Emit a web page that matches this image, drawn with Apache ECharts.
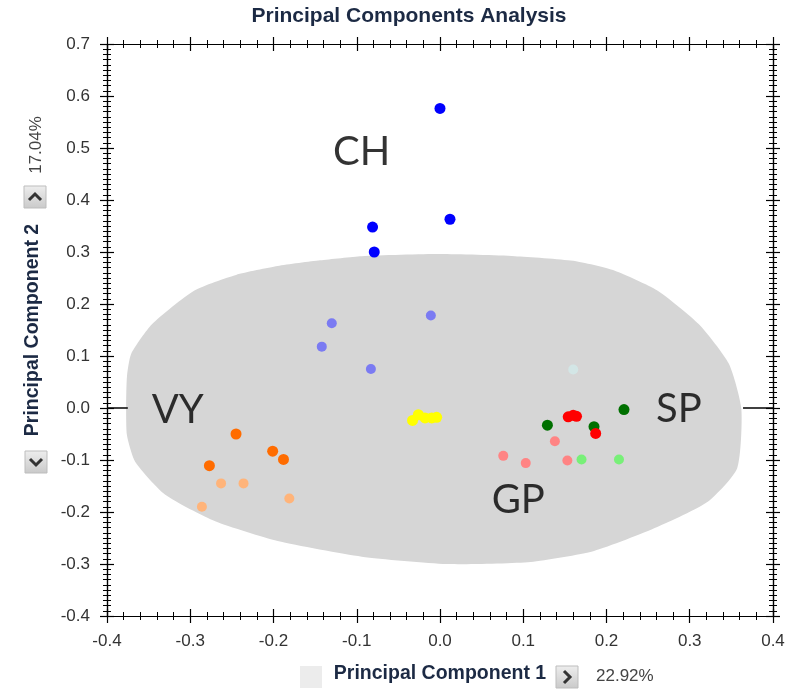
<!DOCTYPE html>
<html>
<head>
<meta charset="utf-8">
<script src="https://cdn.jsdelivr.net/npm/echarts@6/dist/echarts.min.js"></script>
<style>
html,body{margin:0;padding:0;background:#fff;}
#chart{width:792px;height:689px;}
</style>
</head>
<body>
<div id="chart"></div>
<script>
// ---- data ----
var chDark   = [[0.000, 0.576], [0.012, 0.363], [-0.081, 0.348], [-0.079, 0.300]];
var chLight  = [[-0.130, 0.163], [-0.142, 0.118], [-0.083, 0.075], [-0.011, 0.178]];
var vyDark   = [[-0.245, -0.050], [-0.277, -0.111], [-0.201, -0.083], [-0.188, -0.099]];
var vyLight  = [[-0.263, -0.145], [-0.236, -0.145], [-0.181, -0.174], [-0.286, -0.190]];
var yellowPts = [[-0.033, -0.024], [-0.026, -0.013], [-0.018, -0.019], [-0.010, -0.019], [-0.004, -0.018]];
var spDark   = [[0.129, -0.033], [0.185, -0.036], [0.221, -0.003]];
var gpDark   = [[0.154, -0.017], [0.160, -0.014], [0.164, -0.016], [0.187, -0.049]];
var gpLight  = [[0.138, -0.064], [0.076, -0.092], [0.103, -0.106], [0.153, -0.101]];
var spLight  = [[0.170, -0.099], [0.215, -0.099]];
var faintPts = [[0.160, 0.074]];

// confidence region outline (x, y pairs)
var regionX = [-0.371, -0.346, -0.295, -0.245, -0.195, -0.144, -0.094, 0.000, 0.090, 0.160, 0.210, 0.261, 0.311, 0.347, 0.362, 0.357, 0.322, 0.261, 0.185, 0.109, 0.008, -0.094, -0.195, -0.270, -0.330, -0.366, -0.376, -0.377, -0.376];
var regionY = [0.104, 0.161, 0.226, 0.256, 0.273, 0.284, 0.292, 0.296, 0.292, 0.283, 0.264, 0.226, 0.161, 0.085, -0.002, -0.116, -0.180, -0.229, -0.275, -0.296, -0.300, -0.286, -0.256, -0.218, -0.167, -0.104, -0.053, 0.004, 0.061];

var groupNames = ['CH', 'VY', 'SP', 'GP'];
var groupX = [-0.094, -0.315, 0.287, 0.094];
var groupY = [0.493, -0.004, -0.002, -0.178];

var xTicks = [-0.4, -0.3, -0.2, -0.1, 0.0, 0.1, 0.2, 0.3, 0.4];
var yTicks = [-0.4, -0.3, -0.2, -0.1, 0.0, 0.1, 0.2, 0.3, 0.4, 0.5, 0.6, 0.7];
var pc1Pct = '22.92%';
var pc2Pct = '17.04%';
var zeroMarkX = [[-0.4, -0.375], [0.364, 0.4]];

// ---- chart ----
var chart = echarts.init(document.getElementById('chart'), null, {renderer: 'canvas'});
var FONT = 'Liberation Sans, Arial, sans-serif';
function fmt(v) { if (Math.abs(v) < 1e-9) return '0.0'; return v.toFixed(1); }

function axisX(pos, inside, withLabels) {
  return {
    type: 'value', position: pos, min: xTicks[0], max: xTicks[xTicks.length - 1], interval: 0.1,
    splitLine: {show: false},
    axisLine: {show: true, onZero: false, lineStyle: {color: '#000', width: 1.2}},
    axisTick: {show: true, inside: inside, length: 7, lineStyle: {color: '#000', width: 1.2}},
    minorTick: {show: true, splitNumber: 5, length: 4, lineStyle: {color: '#000', width: 1}},
    axisLabel: {show: withLabels, formatter: fmt, color: '#333', fontSize: 17, fontFamily: FONT, margin: 17},
    name: withLabels && pos === 'bottom' ? 'Principal Component 1' : '',
    nameLocation: 'middle', nameGap: 48,
    nameTextStyle: {fontSize: 19.5, fontWeight: 'bold', color: '#1c2a44', fontFamily: FONT}
  };
}
function axisY(pos, inside, withLabels) {
  return {
    type: 'value', position: pos, min: yTicks[0], max: yTicks[yTicks.length - 1], interval: 0.1,
    splitLine: {show: false},
    axisLine: {show: true, onZero: false, lineStyle: {color: '#000', width: 1.2}},
    axisTick: {show: true, inside: inside, length: 7, lineStyle: {color: '#000', width: 1.2}},
    minorTick: {show: true, splitNumber: 10, length: 4, lineStyle: {color: '#000', width: 1}},
    axisLabel: {show: withLabels, formatter: fmt, color: '#333', fontSize: 17, fontFamily: FONT, margin: 17},
    name: withLabels && pos === 'left' ? 'Principal Component 2' : '',
    nameLocation: 'middle', nameGap: 64, nameRotate: 90,
    nameTextStyle: {fontSize: 19.5, fontWeight: 'bold', color: '#1c2a44', fontFamily: FONT}
  };
}

function pts(data, color, size, z) {
  return {type: 'scatter', data: data, symbol: 'circle', symbolSize: size, z: z || 5,
    itemStyle: {color: color, opacity: 1}, silent: true, animation: false};
}

function button(cx, cy, dir) {
  var s = 6, pts;
  if (dir === 'up') pts = [[cx - s, cy + 3], [cx, cy - 3], [cx + s, cy + 3]];
  else if (dir === 'down') pts = [[cx - s, cy - 3], [cx, cy + 3], [cx + s, cy - 3]];
  else pts = [[cx - 3, cy - s], [cx + 3, cy], [cx - 3, cy + s]];
  return {type: 'group', children: [
    {type: 'rect', shape: {x: cx - 11, y: cy - 11, width: 22, height: 22},
     style: {fill: new echarts.graphic.LinearGradient(0, 0, 0, 1, [{offset: 0, color: '#eeeeee'}, {offset: 1, color: '#c9c9c9'}]), stroke: '#bdbdbd', lineWidth: 1}},
    {type: 'polyline', shape: {points: pts}, style: {stroke: '#333', lineWidth: 3, fill: null}}
  ]};
}

var option = {
  backgroundColor: '#fff',
  animation: false,
  grid: {left: 107, right: 19, top: 44, bottom: 66, containLabel: false},
  xAxis: [axisX('bottom', false, true), axisX('bottom', true, false), axisX('top', false, false), axisX('top', true, false)],
  yAxis: [axisY('left', false, true), axisY('left', true, false), axisY('right', false, false), axisY('right', true, false)],
  graphic: [
    {type: 'text', x: 409, y: 16, style: {text: 'Principal Components Analysis', font: 'bold 21px ' + FONT, fill: '#1c2a44', align: 'center', verticalAlign: 'middle'}},
    {type: 'text', x: 36, y: 145, rotation: Math.PI / 2, style: {text: pc2Pct, font: '17px ' + FONT, fill: '#444', align: 'center', verticalAlign: 'middle'}},
    {type: 'text', x: 596, y: 676, style: {text: pc1Pct, font: '17px ' + FONT, fill: '#444', align: 'left', verticalAlign: 'middle'}},
    {type: 'rect', shape: {x: 300, y: 666, width: 22, height: 22}, style: {fill: '#ececec'}},
    button(35, 197, 'up'),
    button(36, 462, 'down'),
    button(567, 677, 'right')
  ],
  series: [
    {
      type: 'custom', z: 1, silent: true, data: [0],
      renderItem: function (params, api) {
        var p = [];
        for (var i = 0; i < regionX.length; i++) p.push(api.coord([regionX[i], regionY[i]]));
        return {type: 'polygon', shape: {points: p, smooth: 0.2}, style: {fill: '#d6d6d6', stroke: null}};
      },
      markLine: {
        silent: true, symbol: ['none', 'none'], label: {show: false},
        lineStyle: {color: '#000', width: 1.5, type: 'solid'},
        data: zeroMarkX.map(function (r) { return [{coord: [r[0], 0]}, {coord: [r[1], 0]}]; })
      }
    },
    pts(faintPts, '#d3e6e6', 10, 3),
    pts(chLight, '#7b7bf2', 10),
    pts(vyLight, '#ffb47a', 10),
    pts(gpLight, '#ff8484', 10),
    pts(spLight, '#78f078', 10),
    pts(chDark, '#0000ff', 11, 6),
    pts(vyDark, '#ff6c00', 11, 6),
    pts(yellowPts, '#ffff00', 11, 6),
    pts(spDark, '#007000', 11, 6),
    pts(gpDark, '#ff0000', 11, 7),
    {
      type: 'scatter', z: 10, silent: true, symbolSize: 0,
      data: groupNames.map(function (n, i) { return {name: n, value: [groupX[i], groupY[i]]}; }),
      label: {show: true, position: 'inside', formatter: '{b}', color: '#000', fontSize: 40, fontFamily: 'Lato, Open Sans, sans-serif'}
    }
  ]
};
chart.setOption(option);
</script>
</body>
</html>
